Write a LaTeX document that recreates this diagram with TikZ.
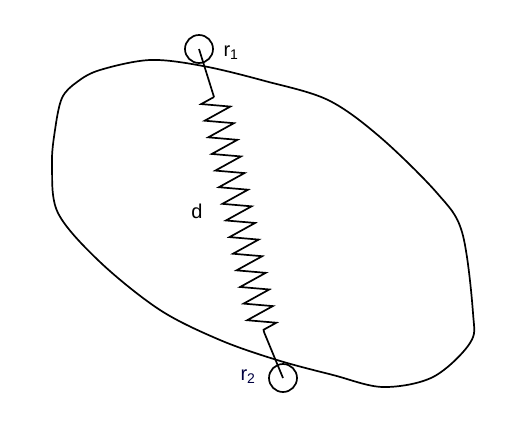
\documentclass[tikz,border=0pt]{standalone}
\usepackage{fontspec}
\setmainfont{Liberation Sans}
\usetikzlibrary{decorations.pathmorphing}

\begin{document}
\begin{tikzpicture}[
      x=1pt, y=-1pt,
      line width=1.7pt,
      ball/.style={draw, circle, minimum size=28pt, inner sep=0pt},
      lbl/.style={font=\fontsize{20}{24}\selectfont, inner sep=0pt},
      spring/.style={decorate, decoration={zigzag, segment length=17pt,
                     amplitude=-14pt}}]
    \useasboundingbox (0,0) rectangle (527,421);
    % body outline
    \draw plot[smooth cycle, tension=0.55] coordinates {
      (203,66) (265,81) (328,100) (380,137) (437,193) (462,232)
      (473,313) (470,343) (433,377) (383,387) (333,375) (277,360)
      (220,340) (160,310) (100,262) (58,213) (52,165) (55,130)
      (62,98) (77,82) (100,70) (150,60)};
    % end points
    \node[ball] (ra) at (199,49) {};
    \node[ball] (rb) at (283,378) {};
    \coordinate (sa) at (214,97);
    \coordinate (sb) at (264,332);
    % labels
    \node[lbl] (la) at (231,53) {r\textsubscript{1}};
    \node[lbl, text=black!75!blue] (lb) at (248,377) {r\textsubscript{2}};
    \node[lbl] (ld) at (197,211) {d};
    % spring between the two points
    \draw (ra.center) -- (sa);
    \draw[spring] (sa) -- (sb);
    \draw (sb) -- (rb.center);
  \end{tikzpicture}
\end{document}
